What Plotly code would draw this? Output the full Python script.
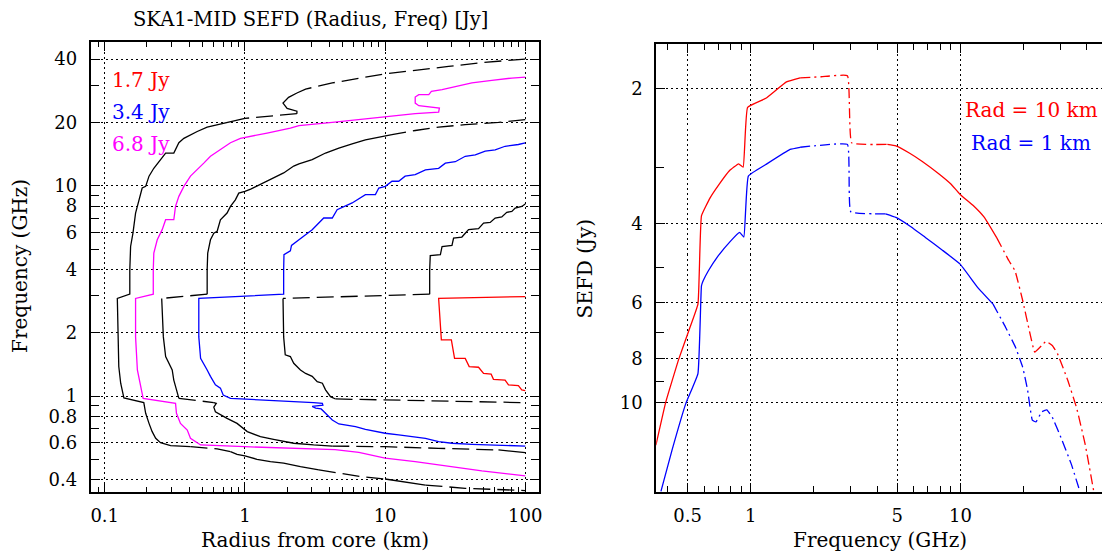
import plotly.graph_objects as go

# ---------------- Left panel: SEFD contours (radius km, frequency GHz) ----------------
C96_R = [100, 49, 28.4, 16.4, 10, 7.24, 4.2, 2.71, 2.35, 2.05, 1.87, 2.0, 2.35, 2.35, 1.52, 1.0,
         0.789, 0.634, 0.538, 0.457, 0.409, 0.367, 0.338, 0.311, 0.272, 0.244, 0.224, 0.207, 0.196,
         0.185, 0.176, 0.166, 0.159, 0.153, 0.151, 0.151, 0.123, 0.124, 0.126, 0.130, 0.137, 0.190,
         0.196, 0.207, 0.218, 0.231, 0.250, 0.295, 0.409, 0.634, 0.789, 0.879, 1.0, 1.22, 1.52, 1.89,
         2.49, 3.37, 4.94, 6.85, 10.0, 14.7, 19.4, 37.3, 100]
C96_F = [40.0, 38.5, 36.9, 35.3, 34.0, 32.8, 30.8, 28.8, 27.6, 26.3, 24.7, 23.3, 22.6, 22.0, 21.4, 20.9,
         20.2, 19.5, 19.0, 18.1, 17.5, 16.8, 16.0, 14.3, 14.3, 13.0, 12.1, 11.1, 9.93,
         9.75, 8.57, 7.41, 5.95, 5.14, 3.98, 3.05, 2.91, 1.91, 1.38, 1.15, 0.98, 0.93,
         0.828, 0.741, 0.677, 0.629, 0.600, 0.581, 0.574, 0.560, 0.544, 0.528, 0.519, 0.500, 0.487, 0.479,
         0.461, 0.445, 0.429, 0.413, 0.403, 0.389, 0.377, 0.364, 0.355]

C68_R = [100, 80.2, 57.8, 41.6, 31.7, 25.5, 21.4, 20.5, 17.4, 16.4, 16.4, 17.4, 24.4, 24.1, 16.4, 10,
         4.2, 2.43, 2.11, 1.44, 1.04, 0.929, 0.789, 0.669, 0.568, 0.509, 0.457, 0.409, 0.367, 0.338,
         0.320, 0.311, 0.272, 0.257, 0.237, 0.224, 0.222, 0.222, 0.166, 0.166, 0.171, 0.180, 0.188,
         0.320, 0.325, 0.347, 0.388, 0.409, 0.445, 0.483, 1.0, 4.4, 6.5, 10, 16.4, 28.4, 49, 100]
C68_F = [32.8, 32.5, 31.7, 30.8, 29.6, 28.6, 28.1, 27.1, 27.1, 26.4, 24.7, 24.0, 23.4, 22.4, 22.0, 21.2,
         20.0, 19.3, 18.8, 17.8, 17.1, 16.8, 16.0, 14.8, 13.8, 12.8, 11.9, 11.1, 9.93, 8.9,
         7.97, 6.89, 6.89, 6.18, 5.53, 4.78, 3.98, 3.05, 2.91, 1.91, 1.33, 1.11, 0.975,
         0.923, 0.828, 0.741, 0.689, 0.629, 0.607, 0.585, 0.574, 0.556, 0.540, 0.506, 0.487, 0.462, 0.440, 0.417]

C48_R = [100, 64.4, 37.3, 24.1, 16.4, 11.2, 9.02, 7.24, 5.82, 4.68, 3.76, 3.02, 2.43, 2.23, 1.89, 1.52,
         1.29, 1.10, 1.0, 0.904, 0.855, 0.789, 0.746, 0.669, 0.634, 0.600, 0.568, 0.543, 0.538, 0.538,
         0.255, 0.262, 0.272, 0.287, 0.303, 0.311, 0.329, 0.338, 0.600, 0.625, 0.600, 0.616, 0.746,
         0.879, 1.04, 1.29, 1.60, 1.89, 2.23, 3.09, 4.2, 10, 24.1, 64.4, 80, 100]
C48_F = [20.6, 20.0, 19.5, 19.0, 18.3, 17.5, 17.0, 16.5, 15.8, 15.1, 14.3, 13.3, 12.7, 12.4, 11.5, 10.7,
         10.1, 9.64, 9.4, 9.22, 8.57, 7.97, 7.41, 6.89, 6.07, 5.95, 5.53, 4.78, 3.98, 3.05,
         2.91, 1.91, 1.54, 1.43, 1.33, 1.19, 1.03, 0.975, 0.930, 0.922, 0.885, 0.842, 0.783,
         0.741, 0.677, 0.641, 0.622, 0.607, 0.596, 0.585, 0.578, 0.574, 0.564, 0.554, 0.548, 0.538]

C34_R = [100, 89.3, 71.8, 61.0, 51.8, 44.0, 37.3, 31.7, 26.9, 24.1, 19.4, 16.4, 13.9, 12.5, 11.2, 10.05,
         9.02, 8.53, 7.24, 5.82, 4.55, 4.20, 3.65, 3.02, 2.43, 2.15, 2.11, 1.90, 1.89, 1.89,
         0.469, 0.469, 0.483, 0.509, 0.538, 0.568, 0.616, 0.669, 0.70, 0.789, 1.0, 3.09, 3.57, 3.6,
         3.02, 3.2, 3.5, 3.76, 4.2, 4.68, 6.15, 7.24, 10, 12.5, 19.4, 24.1, 30.0, 41.6, 64.4, 100]
C34_F = [16.0, 15.7, 15.4, 14.8, 14.6, 14.0, 13.8, 13.0, 12.8, 12.1, 11.9, 11.3, 11.1, 10.5, 10.5, 9.93,
         9.75, 9.07, 9.07, 8.28, 7.69, 7.02, 7.02, 6.18, 5.53, 5.2, 4.9, 4.7, 3.98, 3.05,
         2.91, 1.91, 1.51, 1.43, 1.33, 1.24, 1.13, 1.09, 1.01, 0.975, 0.968, 0.930, 0.923, 0.905,
         0.893, 0.876, 0.868, 0.828, 0.769, 0.736, 0.715, 0.694, 0.665, 0.653, 0.629, 0.607, 0.596, 0.589, 0.585, 0.578]

C24_R = [100, 94.4, 84.7, 80.2, 73.8, 68.0, 61.0, 56.2, 50.4, 46.4, 39.4, 35.3, 30.8, 30.0, 25.5, 24.8,
         21.0, 20.8, 20.8, 1.87, 1.89, 1.94, 2.11, 2.23, 2.49, 2.71, 3.02, 3.28, 3.57, 3.76, 4.08,
         4.43, 10, 28.4, 100]
C24_F = [8.18, 7.97, 7.82, 7.55, 7.47, 7.1, 7.02, 6.69, 6.64, 6.25, 6.18, 5.7, 5.64, 5.2, 5.14, 4.70,
         4.65, 3.98, 3.05, 2.91, 1.91, 1.57, 1.54, 1.43, 1.33, 1.28, 1.24, 1.17, 1.15, 1.07, 0.993,
         0.968, 0.957, 0.940, 0.930]

C17_R = [100, 24.1, 25.2, 29.7, 31.3, 37.3, 39.8, 46.4, 50.4, 57.1, 59.3, 71.8, 75.9, 89.3, 94.4, 100]
C17_F = [2.97, 2.91, 1.85, 1.85, 1.51, 1.51, 1.38, 1.37, 1.28, 1.27, 1.20, 1.19, 1.13, 1.12, 1.07, 1.06]

CONTOUR_LABELS = ["1.7 Jy", "3.4 Jy", "6.8 Jy"]

# ---------------- Right panel: SEFD vs frequency ----------------
RED_F = [0.353, 0.393, 0.454, 0.505, 0.560, 0.582, 0.640, 0.705, 0.789, 0.875, 0.920, 0.966, 1.18, 1.48,
         1.72, 2.17, 2.89, 3.03, 4.48, 4.92, 5.7, 6.55, 7.93, 9.0, 9.96, 11.5, 13.0, 14.9, 17.0, 18.2,
         19.8, 21.3, 22.6, 24.4, 25.6, 27.4, 29.0, 32.5, 35.8, 39.3, 43.2]
RED_S = [12.46, 10.0, 8.0, 6.95, 6.04, 3.84, 3.50, 3.27, 3.05, 2.94, 2.99, 2.20, 2.10, 1.93,
         1.89, 1.88, 1.87, 2.64, 2.66, 2.68, 2.78, 2.90, 3.10, 3.26, 3.44, 3.64, 3.87, 4.30, 4.83, 5.09,
         5.93, 6.92, 7.73, 7.47, 7.31, 7.47, 7.79, 8.94, 10.3, 12.4, 15.8]
BLUE_F = [0.373, 0.421, 0.490, 0.560, 0.582, 0.593, 0.628, 0.691, 0.805, 0.885, 0.927, 0.974, 1.18, 1.54,
          1.72, 2.01, 2.89, 3.0, 4.39, 4.92, 5.8, 6.80, 8.2, 9.96, 12.1, 14.3, 16.4, 18.3, 19.8, 20.9,
          22.0, 22.9, 24.4, 25.8, 27.4, 30.1, 33.7, 37.1]
BLUE_S = [15.8, 12.8, 10.07, 8.63, 5.5, 5.36, 5.09, 4.75, 4.36, 4.18, 4.28, 3.13, 2.95, 2.73,
          2.70, 2.68, 2.66, 3.76, 3.80, 3.87, 4.06, 4.29, 4.58, 4.92, 5.55, 6.04, 6.80, 7.54, 8.35, 9.40,
          10.96, 11.06, 10.5, 10.4, 10.8, 11.97, 13.7, 15.8]
SERIES_LABELS = ["Rad = 10 km", "Rad = 1 km"]

# ---------------- styles ----------------
FONT = "DejaVu Serif"
W, H = 1105, 553
RED, BLUE, MAG, BLK = "#ff0000", "#0000ff", "#ff00ff", "#000000"
LONGDASH = "17px,7px"
DASHDOT = "10px,4px,2px,4px"

# (contour R, F, colour, dashed index spans)
CONTOURS = [
    (C96_R, C96_F, BLK, [(0, 8), (13, 15), (48, 50), (57, 60), (62, 64)]),
    (C68_R, C68_F, MAG, []),
    (C48_R, C48_F, BLK, [(0, 5), (29, 30), (37, 38), (50, 53)]),
    (C34_R, C34_F, BLUE, []),
    (C24_R, C24_F, BLK, [(18, 19), (31, 34)]),
    (C17_R, C17_F, RED, []),
]
SERIES = [
    (RED_F, RED_S, RED, [(14, 18), (27, 40)]),
    (BLUE_F, BLUE_S, BLUE, [(14, 18), (25, 37)]),
]


def runs(n, spans):
    flags = [False] * (n - 1)
    for a, b in spans:
        for i in range(a, b):
            flags[i] = True
    out, s = [], 0
    for i in range(1, n - 1):
        if flags[i] != flags[s]:
            out.append((s, i, flags[s]))
            s = i
    out.append((s, n - 1, flags[s]))
    return out


fig = go.Figure()

for xs, ys, col, spans in CONTOURS:
    for s, e, dashed in runs(len(xs), spans):
        fig.add_trace(go.Scatter(x=xs[s:e + 1], y=ys[s:e + 1], mode="lines",
                                 line=dict(color=col, width=1.3, dash=LONGDASH if dashed else "solid"),
                                 xaxis="x", yaxis="y", showlegend=False, hoverinfo="skip"))

for xs, ys, col, spans in SERIES:
    for s, e, dashed in runs(len(xs), spans):
        fig.add_trace(go.Scatter(x=xs[s:e + 1], y=ys[s:e + 1], mode="lines",
                                 line=dict(color=col, width=1.3, dash=DASHDOT if dashed else "solid",
                                           shape="spline", smoothing=0.3),
                                 xaxis="x2", yaxis="y2", showlegend=False, hoverinfo="skip"))

# pixel geometry
L_X0, L_X1 = 91, 540.7
R_X0 = 658
Y_TOP_L, Y_TOP_R, Y_BOT = 41.7, 43.5, 492


def px(x):
    return x / W


def py(y):
    return 1 - y / H


tickfont = dict(family=FONT, size=18, color="black")
common = dict(type="log", showline=True, linecolor="black", linewidth=2, ticks="inside",
              tickcolor="black", tickwidth=1, showgrid=True, gridcolor="black", gridwidth=1,
              griddash="2px,3px", zeroline=False, tickfont=tickfont)


def minor(vals, ln):
    return dict(tickvals=vals, ticks="inside", ticklen=ln, tickcolor="black", tickwidth=1, showgrid=False)


dec = lambda m: [m * k for k in range(2, 10)]

fig.update_layout(
    width=W, height=H, autosize=False, margin=dict(l=0, r=0, t=0, b=0),
    paper_bgcolor="white", plot_bgcolor="white",
    xaxis=dict(**common, domain=[px(L_X0), px(L_X1)], range=[-1.0996, 2.0996],
               tickvals=[0.1, 1, 10, 100], ticktext=["0.1", "1", "10", "100"], ticklen=9,
               mirror="ticks", ticklabelstandoff=6,
               minor=minor([0.09] + dec(0.1) + dec(1) + dec(10), 5), anchor="y"),
    yaxis=dict(**common, domain=[py(Y_BOT), py(Y_TOP_L)], range=[-0.4565, 1.6847],
               tickvals=[0.4, 0.6, 0.8, 1, 2, 4, 6, 8, 10, 20, 40],
               ticktext=["0.4", "0.6", "0.8", "1", "2", "4", "6", "8", "10", "20", "40"], ticklen=9,
               mirror="ticks", ticklabelstandoff=8,
               minor=minor([0.5, 0.7, 0.9, 3, 5, 7, 9, 30], 8), anchor="x"),
    xaxis2=dict(**common, domain=[px(R_X0), 1.0], range=[-0.4508, 1.6748],
                tickvals=[0.5, 1, 5, 10], ticktext=["0.5", "1", "5", "10"], ticklen=9,
                mirror="ticks", ticklabelstandoff=6,
                minor=minor([0.4, 0.6, 0.7, 0.8, 0.9, 2, 3, 4, 6, 7, 8, 9, 20, 30, 40], 6), anchor="y2"),
    yaxis2=dict(**common, domain=[py(Y_BOT), py(Y_TOP_R)], range=[1.2, 0.2],
                tickvals=[2, 4, 6, 8, 10], ticktext=["2", "4", "6", "8", "10"], ticklen=9,
                mirror=False, ticklabelstandoff=8,
                minor=minor([3, 5, 7, 9], 8), anchor="x2"),
)

ann = []


def text(t, x, y, color="black", size=20, angle=0):
    ann.append(dict(text=t, x=px(x), y=py(y), xref="paper", yref="paper", showarrow=False,
                    font=dict(family=FONT, size=size, color=color), textangle=angle,
                    xanchor="center", yanchor="middle"))


text("SKA1-MID SEFD (Radius, Freq) [Jy]", 311, 19, size=19.5)
text("Radius from core (km)", 316, 540)
text("Frequency (GHz)", 20, 266, angle=-90)
text("Frequency (GHz)", 882, 540)
text("SEFD (Jy)", 587, 268, angle=-90)
for lab, col, yy in zip(CONTOUR_LABELS, [RED, BLUE, MAG], [80, 112, 144]):
    text(lab, 141, yy, color=col)
for lab, col, yy in zip(SERIES_LABELS, [RED, BLUE], [110, 143]):
    text(lab, 1034, yy, color=col)
fig.update_layout(annotations=ann)

fig.write_html("out.html", config={"displayModeBar": False, "staticPlot": True},
               post_script="document.body.style.margin='0';document.body.style.padding='0';")
